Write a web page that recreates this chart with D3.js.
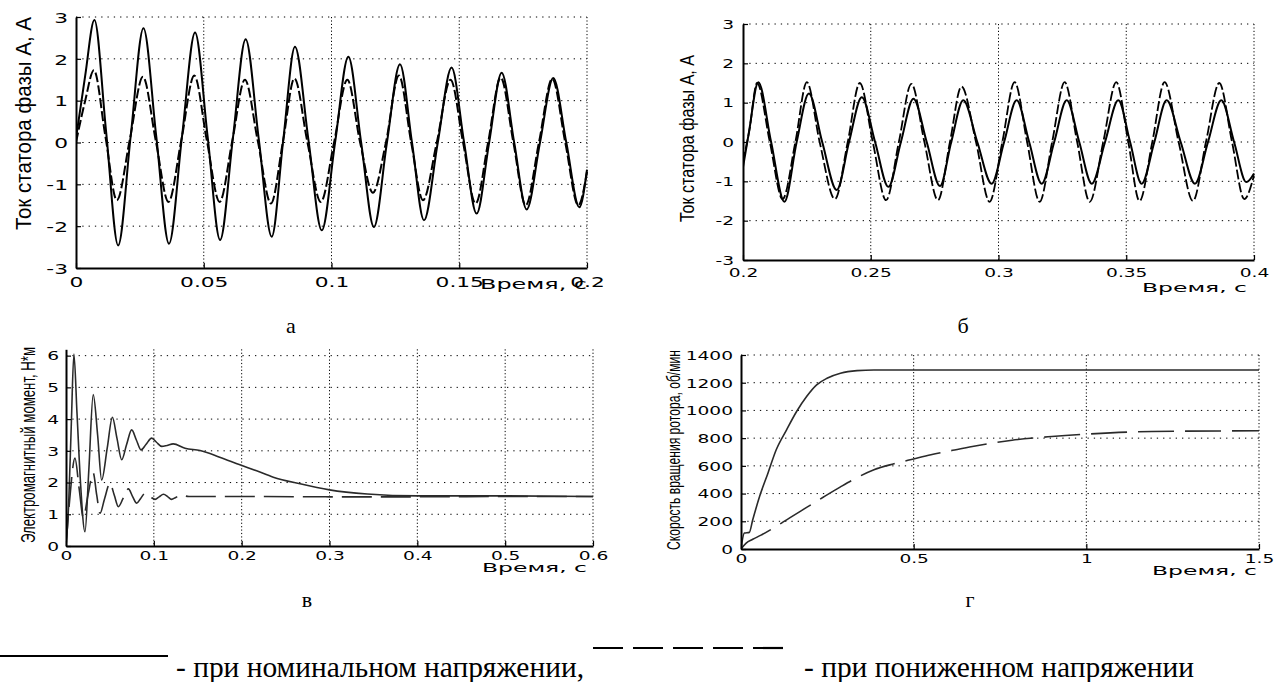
<!DOCTYPE html>
<html><head><meta charset="utf-8">
<script src="https://cdn.jsdelivr.net/npm/d3@7"></script>
<style>body{margin:0;background:#fff}</style>
</head><body><svg id="c" width="1283" height="682"></svg>
<script>
// ---------- DATA ----------
// Panel а: stator current, phase A (0 .. 0.2 s)
const aNominal = [[0,0.1],[0.0036,1.6],[0.0072,2.93],[0.0118,0.25],[0.0165,-2.46],[0.0214,0.15],[0.0264,2.73],[0.0314,0.15],[0.0364,-2.42],[0.0415,0.15],[0.0466,2.63],[0.0515,0.15],[0.0564,-2.33],[0.0614,0.1],[0.0664,2.47],[0.0715,0.1],[0.0766,-2.25],[0.0811,0.05],[0.0857,2.29],[0.091,0.05],[0.0962,-2.10],[0.1014,0],[0.1066,2.05],[0.1116,0],[0.1166,-2.02],[0.1217,0],[0.1268,1.87],[0.1315,0],[0.1362,-1.86],[0.1416,0],[0.147,1.79],[0.1519,0],[0.1568,-1.70],[0.1617,0],[0.1666,1.67],[0.1715,0],[0.1764,-1.60],[0.1816,0],[0.1868,1.54],[0.1919,0],[0.197,-1.55],[0.2,-0.65]];
const aReduced = [[0,0],[0.0036,1.0],[0.007,1.73],[0.0115,0.15],[0.016,-1.38],[0.021,0.05],[0.0262,1.57],[0.0312,0.05],[0.0362,-1.42],[0.0412,0.05],[0.0463,1.6],[0.0512,0.05],[0.0562,-1.42],[0.0612,0.05],[0.0661,1.5],[0.0712,0.02],[0.0763,-1.46],[0.081,0.02],[0.0855,1.53],[0.0906,0],[0.0958,-1.42],[0.101,0],[0.1062,1.5],[0.1112,0],[0.1162,-1.2],[0.1213,0],[0.1264,1.6],[0.1312,0],[0.1358,-1.38],[0.1412,0],[0.1466,1.5],[0.1515,0],[0.1564,-1.46],[0.1613,0],[0.1662,1.55],[0.1712,0],[0.176,-1.5],[0.1812,0],[0.1864,1.52],[0.1915,0],[0.1966,-1.5],[0.2,-0.7]];
// Panel б: stator current, phase A (0.2 .. 0.4 s)
const bNominal = [[0.2,-0.64],[0.2022,0.2],[0.206,1.52],[0.211,0],[0.2162,-1.52],[0.221,0],[0.2258,1.23],[0.231,0],[0.2367,-1.22],[0.2415,0],[0.2465,1.14],[0.2517,0],[0.2569,-1.14],[0.2618,0],[0.2667,1.1],[0.2719,0],[0.2771,-1.12],[0.2815,0],[0.2862,1.06],[0.2917,0],[0.2973,-1.06],[0.3022,0],[0.3071,1.06],[0.312,0],[0.3169,-1.06],[0.3218,0],[0.3267,1.06],[0.3316,0],[0.3365,-1.06],[0.3417,0],[0.3469,1.06],[0.3515,0],[0.356,-1.06],[0.361,0],[0.3658,1.06],[0.3713,0],[0.3769,-1.06],[0.382,0],[0.3872,1.06],[0.3922,0],[0.397,-1.02],[0.4,-0.8]];
const bReduced = [[0.2,-0.5],[0.2025,0.3],[0.2055,1.5],[0.2105,0],[0.2155,-1.45],[0.2205,0],[0.225,1.52],[0.23,0],[0.236,-1.45],[0.241,0],[0.2457,1.5],[0.2508,0],[0.256,-1.48],[0.261,0],[0.2659,1.48],[0.271,0],[0.2763,-1.48],[0.281,0],[0.2855,1.41],[0.2912,0],[0.2965,-1.52],[0.3015,0],[0.3063,1.52],[0.3112,0],[0.3161,-1.52],[0.321,0],[0.3259,1.52],[0.3308,0],[0.3357,-1.52],[0.341,0],[0.3461,1.52],[0.3508,0],[0.3552,-1.5],[0.3602,0],[0.365,1.52],[0.3705,0],[0.3761,-1.5],[0.3812,0],[0.3864,1.5],[0.3914,0],[0.3962,-1.45],[0.4,-0.85]];
// Panel в: electromagnetic torque (0 .. 0.6 s)
const cNominal = [[0,0],[0.003,1.3],[0.006,3.8],[0.009,6.05],[0.0125,4.2],[0.0165,2.0],[0.0216,0.45],[0.026,2.4],[0.031,4.77],[0.036,3.5],[0.0406,2.08],[0.047,3.1],[0.0528,4.06],[0.058,3.4],[0.0634,2.72],[0.069,3.2],[0.0748,3.66],[0.08,3.35],[0.0854,3.03],[0.091,3.2],[0.0976,3.4],[0.103,3.27],[0.109,3.14],[0.115,3.17],[0.122,3.22],[0.1355,3.08],[0.1526,3.01],[0.175,2.8],[0.198,2.56],[0.217,2.37],[0.236,2.17],[0.2665,1.96],[0.3,1.77],[0.343,1.64],[0.4,1.58],[0.457,1.58],[0.5,1.58],[0.6,1.56]];
const cReduced = [[0,0],[0.004,1.4],[0.0102,2.77],[0.015,1.8],[0.0197,0.9],[0.025,1.6],[0.031,2.3],[0.035,1.6],[0.0387,1.03],[0.044,1.5],[0.05,1.98],[0.055,1.6],[0.0596,1.24],[0.065,1.5],[0.071,1.8],[0.076,1.55],[0.0805,1.35],[0.085,1.5],[0.09,1.66],[0.096,1.55],[0.1014,1.47],[0.106,1.55],[0.111,1.63],[0.116,1.55],[0.12,1.47],[0.125,1.53],[0.13,1.6],[0.14,1.56],[0.2,1.56],[0.3,1.55],[0.4,1.55],[0.5,1.56],[0.6,1.56]];
// Panel г: rotor speed (0 .. 1.5 s)
const dNominal = [[0,0],[0.0097,115],[0.024,120],[0.034,211],[0.054,380],[0.078,547],[0.102,716],[0.132,860],[0.161,992],[0.19,1100],[0.219,1184],[0.249,1232],[0.288,1268],[0.336,1287],[0.385,1292],[0.5,1292],[1.0,1292],[1.5,1292]];
const dReduced = [[0,0],[0.015,43],[0.034,70],[0.058,100],[0.093,150],[0.141,225],[0.19,300],[0.239,375],[0.288,448],[0.336,515],[0.385,572],[0.443,615],[0.5,650],[0.55,680],[0.613,712],[0.67,740],[0.785,785],[0.9,812],[1.0,829],[1.19,848],[1.5,853]];

// Ticks and labels
const xTicksA = [0,0.05,0.1,0.15,0.2];
const xLabelsA = ["0","0.05","0.1","0.15","0.2"];
const xTicksB = [0.2,0.25,0.3,0.35,0.4];
const xLabelsB = ["0.2","0.25","0.3","0.35","0.4"];
const yTicksAB = [-3,-2,-1,0,1,2,3];
const yLabelsAB = ["-3","-2","-1","0","1","2","3"];
const xTicksC = [0,0.1,0.2,0.3,0.4,0.5,0.6];
const xLabelsC = ["0","0.1","0.2","0.3","0.4","0.5","0.6"];
const yTicksC = [0,1,2,3,4,5,6];
const yLabelsC = ["0","1","2","3","4","5","6"];
const xTicksD = [0,0.5,1,1.5];
const xLabelsD = ["0","0.5","1","1.5"];
const yTicksD = [0,200,400,600,800,1000,1200,1400];
const yLabelsD = ["0","200","400","600","800","1000","1200","1400"];

const xTitle = "Время, с";
const yTitleA = "Ток статора фазы А, А";
const yTitleC = "Электромагнитный момент, Н*м";
const yTitleD = "Скорость вращения ротора, об/мин";
const captions = ["а","б","в","г"];
const legendLabels = ["- при номинальном напряжении,","- при пониженном напряжении"];

// ---------- DRAWING ----------
const svg = d3.select('#c');
svg.append('rect').attr('width',1283).attr('height',682).attr('fill','#fff');
const defs = svg.append('defs');
const TICKFONT = "'DejaVu Sans', 'Liberation Sans', sans-serif";
const NARROW = "'Liberation Sans Narrow', 'Liberation Sans', Arial, sans-serif";
const SERIF = "'Liberation Serif', 'Times New Roman', serif";

function drawPanel(p, idx){
  const x = d3.scaleLinear().domain(p.xd).range([p.left, p.right]);
  const y = d3.scaleLinear().domain(p.yd).range([p.bottom, p.top]);
  const g = svg.append('g');
  // grid
  p.yt.forEach(v => {
    if (v === p.yd[0]) return;
    g.append('line').attr('x1', p.left).attr('x2', p.right).attr('y1', y(v)).attr('y2', y(v))
      .attr('stroke', '#000').attr('stroke-width', 1).attr('stroke-dasharray', '1.3,5');
  });
  p.xt.forEach(v => {
    if (v === p.xd[0]) return;
    g.append('line').attr('x1', x(v)).attr('x2', x(v)).attr('y1', p.top).attr('y2', p.bottom)
      .attr('stroke', '#000').attr('stroke-width', 1).attr('stroke-dasharray', '1.2,2.2');
  });
  // clip
  const cid = 'clip' + idx;
  defs.append('clipPath').attr('id', cid).append('rect')
    .attr('x', p.left).attr('y', p.top - 4).attr('width', p.right - p.left + 1).attr('height', p.bottom - p.top + 4);
  const line = d3.line().x(d => x(d[0])).y(d => y(d[1])).curve(d3.curveMonotoneX);
  p.series.forEach(s => {
    g.append('path').attr('d', line(s.data)).attr('fill', 'none')
      .attr('stroke', s.color).attr('stroke-width', s.width)
      .attr('stroke-dasharray', s.dash || null)
      .attr('stroke-linejoin', 'round')
      .attr('clip-path', `url(#${cid})`);
  });
  // axes
  const ax = g.append('g').attr('transform', `translate(0,${p.bottom})`)
    .call(d3.axisBottom(x).tickValues(p.xt).tickSizeInner(-5).tickSizeOuter(0).tickFormat((d,i) => p.xl[i]));
  const ay = g.append('g').attr('transform', `translate(${p.left},0)`)
    .call(d3.axisLeft(y).tickValues(p.yt).tickSizeInner(-5).tickSizeOuter(0).tickFormat((d,i) => p.yl[i]));
  [ax, ay].forEach(a => {
    a.select('.domain').attr('stroke', '#000').attr('stroke-width', 2);
    a.selectAll('.tick line').attr('stroke', '#000').attr('stroke-width', 1.2);
    a.selectAll('text').attr('font-family', TICKFONT).attr('font-size', p.fs).attr('fill', '#000');
  });
  ax.selectAll('text').attr('y', p.xlOff).attr('dy', null)
    .attr('transform', `scale(${p.sx},1)`);
  ay.selectAll('text').attr('x', -p.ylOff / p.sx).attr('dy', '0.36em')
    .attr('transform', `scale(${p.sx},1)`);
  // x title
  g.append('text').attr('x', p.xt0.x).attr('y', p.xt0.y).attr('text-anchor', 'end')
    .attr('font-family', TICKFONT).attr('font-size', p.xt0.fs)
    .attr('textLength', p.xt0.len).attr('lengthAdjust', 'spacingAndGlyphs').text(xTitle);
  // y title
  g.append('text').attr('transform', `translate(${p.yt0.x},${p.yt0.y}) rotate(-90)`)
    .attr('text-anchor', 'middle').attr('font-family', NARROW).attr('font-size', p.yt0.fs)
    .attr('textLength', p.yt0.len).attr('lengthAdjust', 'spacingAndGlyphs').text(p.yt0.text);
  // caption
  svg.append('text').attr('x', p.cap.x).attr('y', p.cap.y).attr('text-anchor', 'middle')
    .attr('font-family', SERIF).attr('font-size', 22).text(captions[idx]);
}

const black = '#000', dark = '#2a2a2a';
const panels = [
  { left:76, right:587, top:17, bottom:268, xd:[0,0.2], yd:[-3,3], xt:xTicksA, xl:xLabelsA, yt:yTicksAB, yl:yLabelsAB,
    fs:14.5, sx:1.5, xlOff:19, ylOff:8,
    series:[{data:aNominal,color:black,width:2},{data:aReduced,color:black,width:2,dash:'10,3'}],
    xt0:{x:587,y:289,fs:14,len:107}, yt0:{x:31,y:123.5,fs:22,len:213,text:yTitleA}, cap:{x:291,y:333} },
  { left:743, right:1254, top:24, bottom:260, xd:[0.2,0.4], yd:[-3,3], xt:xTicksB, xl:xLabelsB, yt:yTicksAB, yl:yLabelsAB,
    fs:12, sx:1.55, xlOff:17, ylOff:9,
    series:[{data:bNominal,color:black,width:2},{data:bReduced,color:black,width:1.8,dash:'10,3'}],
    xt0:{x:1247,y:292,fs:13,len:105}, yt0:{x:694,y:138.5,fs:21,len:167,text:yTitleA}, cap:{x:963,y:333} },
  { left:66, right:593, top:349.3, bottom:546, xd:[0,0.6], yd:[0,6.2], xt:xTicksC, xl:xLabelsC, yt:yTicksC, yl:yLabelsC,
    fs:12, sx:1.55, xlOff:14, ylOff:7,
    series:[{data:cNominal,color:dark,width:1.6},{data:cReduced,color:dark,width:1.6,dash:'30,9'}],
    xt0:{x:587,y:572,fs:12,len:105}, yt0:{x:35,y:445,fs:20,len:196,text:yTitleC}, cap:{x:307,y:607} },
  { left:741, right:1259, top:355, bottom:549, xd:[0,1.5], yd:[0,1400], xt:xTicksD, xl:xLabelsD, yt:yTicksD, yl:yLabelsD,
    fs:12, sx:1.55, xlOff:14, ylOff:8,
    series:[{data:dNominal,color:dark,width:1.6},{data:dReduced,color:dark,width:1.6,dash:'36,11'}],
    xt0:{x:1257,y:575,fs:12,len:105}, yt0:{x:680,y:450,fs:19,len:200,text:yTitleD}, cap:{x:970,y:607} }
];
panels.forEach((p,i) => drawPanel(p,i));

// legend
const lg = svg.append('g');
lg.append('line').attr('x1',0).attr('x2',168).attr('y1',656).attr('y2',656).attr('stroke','#000').attr('stroke-width',2.2);
lg.append('text').attr('x',176).attr('y',677).attr('font-family',SERIF).attr('font-size',29)
  .attr('textLength',408).attr('lengthAdjust','spacingAndGlyphs').text(legendLabels[0]);
lg.append('line').attr('x1',593).attr('x2',787).attr('y1',648).attr('y2',648).attr('stroke','#000').attr('stroke-width',2.2).attr('stroke-dasharray','30,10');
lg.append('text').attr('x',804).attr('y',677).attr('font-family',SERIF).attr('font-size',29)
  .attr('textLength',390).attr('lengthAdjust','spacingAndGlyphs').text(legendLabels[1]);
</script></body></html>
